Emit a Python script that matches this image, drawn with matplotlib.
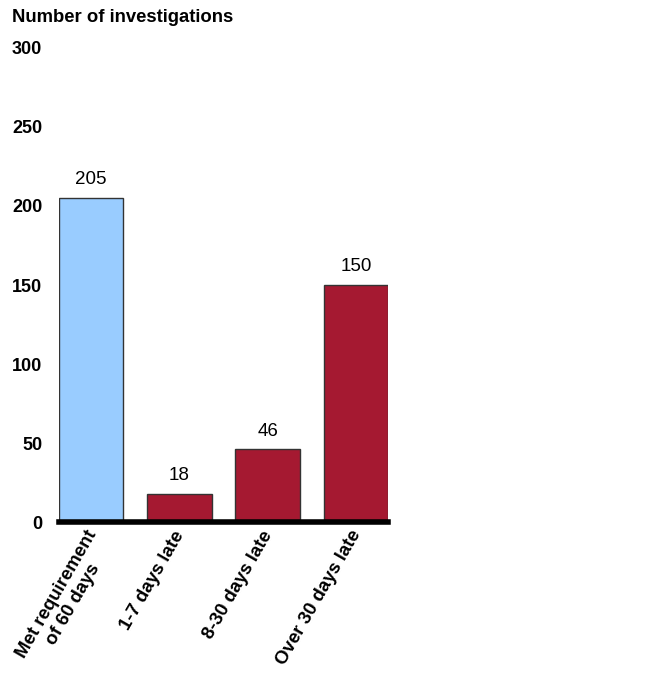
import matplotlib
matplotlib.use("Agg")
import matplotlib.pyplot as plt
from matplotlib.transforms import ScaledTranslation

plt.rcParams["font.family"] = ["Liberation Sans", "DejaVu Sans"]

categories = ["Met requirement\nof 60 days", "1-7 days late", "8-30 days late", "Over 30 days late"]
counts = [205, 18, 46, 150]
colors = ["#99CCFF", "#A51931", "#A51931", "#A51931"]
yticks = [0, 50, 100, 150, 200, 250, 300]

fig = plt.figure(figsize=(6.57, 6.74), dpi=100)
ax = fig.add_axes([0.0898, 0.2255, 0.501, 0.7033])

x = range(len(categories))
bars = ax.bar(x, counts, width=0.73, color=colors, edgecolor="#333333", linewidth=1)

for b, v in zip(bars, counts):
    ax.annotate(str(v), (b.get_x() + b.get_width() / 2, v), xytext=(0, 7),
                textcoords="offset points", ha="center", va="bottom", fontsize=13.5)

ax.set_xlim(-0.365, len(categories) - 0.635)
ax.set_ylim(0, 300)
ax.set_yticks(yticks)
ax.set_yticklabels([str(t) for t in yticks], fontsize=13, fontweight="bold")
ax.tick_params(axis="y", length=0, pad=12)
ax.tick_params(axis="x", length=0, pad=4)
ax.set_xticks(list(x))
labels = ax.set_xticklabels(categories, rotation=60, ha="right", va="top", rotation_mode="anchor",
                            fontsize=13.4, fontweight="bold", multialignment="center")
shift = ScaledTranslation(-6 / 100, 0, fig.dpi_scale_trans)
for lab in labels:
    lab.set_transform(lab.get_transform() + shift)

for side in ["top", "right", "left"]:
    ax.spines[side].set_visible(False)
ax.spines["bottom"].set_linewidth(4)
ax.spines["bottom"].set_color("black")

fig.text(12 / 657, 1 - 9 / 674, "Number of investigations", ha="left", va="top",
         fontsize=13.3, fontweight="bold")

fig.savefig("out.png", dpi=100)
